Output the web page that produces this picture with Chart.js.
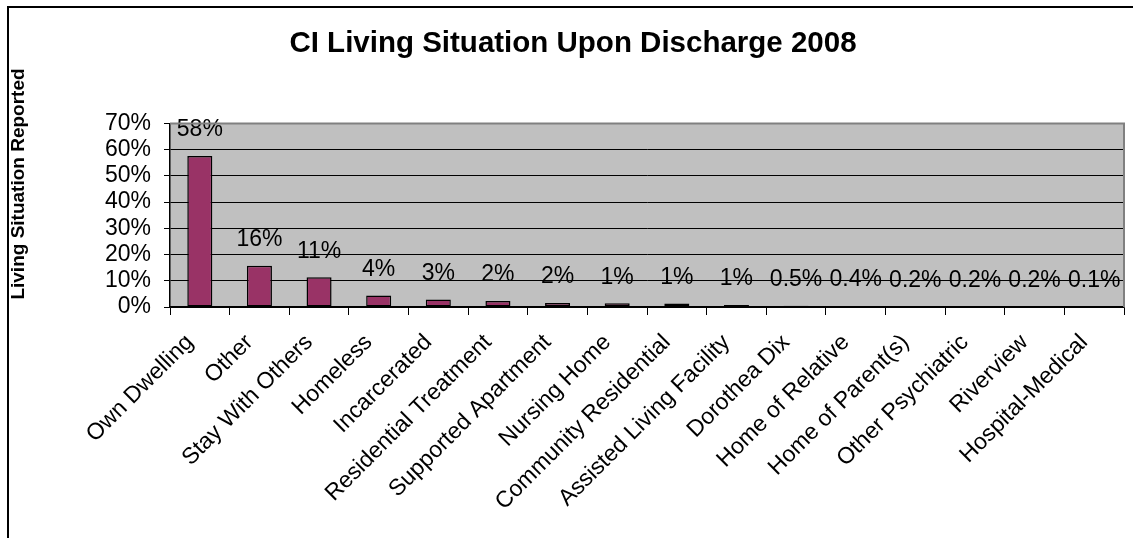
<!DOCTYPE html>
<html>
<head>
<meta charset="utf-8">
<script src="https://cdn.jsdelivr.net/npm/chart.js@4/dist/chart.umd.min.js"></script>
<style>
  html, body { margin: 0; padding: 0; background: #fff; }
  #wrap { width: 1133px; height: 538px; position: relative; }
</style>
</head>
<body>
<div id="wrap"><canvas id="chart"></canvas></div>
<script>
  const categories = [
    "Own Dwelling", "Other", "Stay With Others", "Homeless", "Incarcerated",
    "Residential Treatment", "Supported Apartment", "Nursing Home",
    "Community Residential", "Assisted Living Facility", "Dorothea Dix",
    "Home of Relative", "Home of Parent(s)", "Other Psychiatric", "Riverview",
    "Hospital-Medical"
  ];
  const percents = [57.6, 15.7, 11.3, 4.4, 2.9, 2.3, 1.5, 1.4, 1.3, 0.8, 0.5, 0.4, 0.2, 0.2, 0.2, 0.1];
  const valueLabels = ["58%", "16%", "11%", "4%", "3%", "2%", "2%", "1%", "1%", "1%", "0.5%", "0.4%", "0.2%", "0.2%", "0.2%", "0.1%"];
  const yTicks = [0, 10, 20, 30, 40, 50, 60, 70];

  const FONT = "'Liberation Sans', Arial, sans-serif";

  // gray plot background, frame, y title and value labels
  const decor = {
    id: "decor",
    beforeDraw(chart) {
      const a = chart.chartArea, c = chart.ctx;
      c.save();
      c.fillStyle = "#c0c0c0";
      c.fillRect(a.left, a.top, a.right - a.left, a.bottom - a.top);
      c.restore();
    },
    afterDatasetsDraw(chart) {
      const c = chart.ctx;
      const bars = chart.getDatasetMeta(0).data;
      c.save();
      c.fillStyle = "#000";
      c.font = "23px " + FONT;
      c.textAlign = "center";
      c.textBaseline = "middle";
      bars.forEach((bar, i) => {
        c.fillText(valueLabels[i], bar.x, bar.y - 26);
      });
      c.restore();
    },
    afterDraw(chart) {
      const a = chart.chartArea, c = chart.ctx;
      c.save();
      c.strokeStyle = "#808080";
      c.lineWidth = 2;
      c.beginPath();
      c.moveTo(a.left, a.top);
      c.lineTo(a.right, a.top);
      c.lineTo(a.right, a.bottom);
      c.stroke();
      // outer frame, cut off at right and bottom
      c.strokeStyle = "#000";
      c.lineWidth = 2;
      c.strokeRect(8, 7, 2000, 2000);
      c.fillStyle = "#000";
      c.font = "bold 19px " + FONT;
      c.textAlign = "center";
      c.textBaseline = "middle";
      c.translate(19, 184);
      c.rotate(-Math.PI / 2);
      c.fillText("Living Situation Reported", 0, 0);
      c.restore();
    }
  };

  const ctx = document.getElementById("chart").getContext("2d");
  const chart = new Chart(ctx, {
    type: "bar",
    data: {
      labels: categories,
      datasets: [{
        data: percents,
        backgroundColor: "#993366",
        borderColor: "#000",
        borderWidth: 1.5,
        borderSkipped: false,
        categoryPercentage: 1,
        barPercentage: 0.42
      }]
    },
    options: {
      responsive: true,
      maintainAspectRatio: false,
      animation: false,
      layout: { padding: { left: 22, right: 9, top: 0, bottom: 0 } },
      plugins: {
        legend: { display: false },
        tooltip: { enabled: false },
        title: {
          display: true,
          text: "CI Living Situation Upon Discharge 2008",
          color: "#000",
          font: { family: FONT, size: 29.5, weight: "bold" },
          padding: { top: 26, bottom: 62 }
        }
      },
      scales: {
        x: {
          offset: true,
          grid: {
            offset: true,
            drawOnChartArea: false,
            drawTicks: true,
            tickLength: 8,
            color: "#000",
            lineWidth: 1
          },
          border: { display: true, color: "#000", width: 1.5 },
          ticks: {
            color: "#000",
            font: { family: FONT, size: 23 },
            maxRotation: 45,
            minRotation: 45,
            autoSkip: false,
            padding: 14,
            labelOffset: -10
          },
          afterFit(s) { s.height = 231; }
        },
        y: {
          min: 0,
          max: 70,
          afterBuildTicks(s) { s.ticks = yTicks.map(v => ({ value: v })); },
          grid: {
            color: "#000",
            lineWidth: 1,
            drawTicks: true,
            tickLength: 6
          },
          border: { display: true, color: "#000", width: 1.5 },
          ticks: {
            color: "#000",
            font: { family: FONT, size: 23 },
            autoSkip: false,
            padding: 13,
            callback: v => v + "%"
          },
          afterFit(s) { s.width = 148; }
        }
      }
    },
    plugins: [decor]
  });
</script>
</body>
</html>
